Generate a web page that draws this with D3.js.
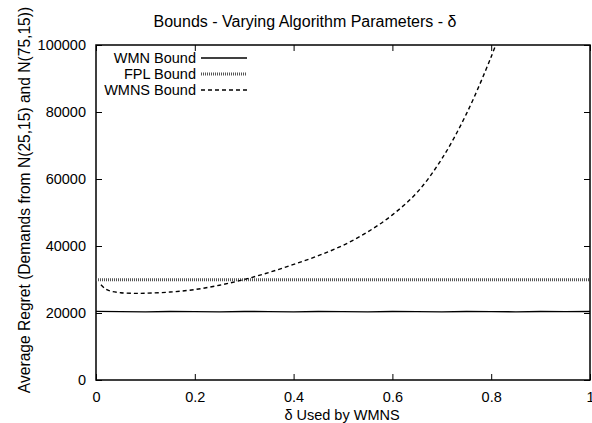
<!DOCTYPE html>
<html>
<head>
<meta charset="utf-8">
<script src="https://cdn.jsdelivr.net/npm/d3@7/dist/d3.min.js"></script>
<style>
  html, body { margin: 0; padding: 0; background: #fff; }
  svg { display: block; }
  text { font-family: "Liberation Sans", Arial, sans-serif; fill: #000; }
</style>
</head>
<body>
<svg id="chart" width="592" height="423"></svg>
<script>
// Regret bounds as a function of the WMNS parameter delta
const deltaWMN = [0, 0.05, 0.1, 0.15, 0.2, 0.25, 0.3, 0.35, 0.4, 0.45, 0.5, 0.55, 0.6, 0.65, 0.7, 0.75, 0.8, 0.85, 0.9, 0.95, 1];
const wmnBound = [20500, 20400, 20350, 20450, 20400, 20350, 20450, 20400, 20350, 20450, 20400, 20350, 20450, 20400, 20350, 20450, 20400, 20350, 20450, 20400, 20450];

const deltaFPL = [0, 1];
const fplBound = [29900, 29900];

const deltaWMNS = [0.01, 0.02, 0.03, 0.05, 0.08, 0.1, 0.15, 0.2, 0.25, 0.3, 0.35, 0.4, 0.45, 0.5, 0.55, 0.6, 0.65, 0.7, 0.75, 0.8, 0.82];
const wmnsBound = [28400, 27100, 26500, 26050, 25850, 25900, 26250, 27000, 28300, 30000, 32100, 34500, 37100, 40200, 44200, 49300, 56000, 66000, 79500, 96500, 104500];

const xTicks = [0, 0.2, 0.4, 0.6, 0.8, 1];
const xTickLabels = ["0", "0.2", "0.4", "0.6", "0.8", "1"];
const yTicks = [0, 20000, 40000, 60000, 80000, 100000];
const yTickLabels = ["0", "20000", "40000", "60000", "80000", "100000"];

const seriesNames = ["WMN Bound", "FPL Bound", "WMNS Bound"];

const svg = d3.select("#chart");
const pLeft = 96, pRight = 590, pTop = 45, pBottom = 380;

const x = d3.scaleLinear().domain([0, 1]).range([pLeft, pRight]);
const y = d3.scaleLinear().domain([0, 100000]).range([pBottom, pTop]);

svg.append("defs").append("clipPath").attr("id", "plot-clip")
  .append("rect").attr("x", pLeft).attr("y", pTop)
  .attr("width", pRight - pLeft).attr("height", pBottom - pTop);

// Title
svg.append("text").attr("x", 305).attr("y", 27)
  .attr("text-anchor", "middle").style("font-size", "16px")
  .text("Bounds - Varying Algorithm Parameters - δ");

// Axes with inward ticks, mirrored on the opposite sides
const tickLen = 6;
const fmtX = (d, i) => xTickLabels[i];
const fmtY = (d, i) => yTickLabels[i];

const axB = svg.append("g").attr("transform", `translate(0,${pBottom})`)
  .call(d3.axisBottom(x).tickValues(xTicks).tickFormat(fmtX).tickSizeInner(-tickLen).tickSizeOuter(0).tickPadding(12));
const axT = svg.append("g").attr("transform", `translate(0,${pTop})`)
  .call(d3.axisTop(x).tickValues(xTicks).tickFormat("").tickSizeInner(-tickLen).tickSizeOuter(0));
const axL = svg.append("g").attr("transform", `translate(${pLeft},0)`)
  .call(d3.axisLeft(y).tickValues(yTicks).tickFormat(fmtY).tickSizeInner(-tickLen).tickSizeOuter(0).tickPadding(10));
const axR = svg.append("g").attr("transform", `translate(${pRight},0)`)
  .call(d3.axisRight(y).tickValues(yTicks).tickFormat("").tickSizeInner(-tickLen).tickSizeOuter(0));

[axB, axT, axL, axR].forEach(g => {
  g.select(".domain").remove();
  g.selectAll(".tick line").attr("stroke", "#000").attr("stroke-width", 1);
  g.selectAll(".tick text").style("font-size", "14.5px").attr("fill", "#000")
    .style("font-family", "'Liberation Sans', Arial, sans-serif");
});

// Frame
svg.append("rect").attr("x", pLeft).attr("y", pTop)
  .attr("width", pRight - pLeft).attr("height", pBottom - pTop)
  .attr("fill", "none").attr("stroke", "#000").attr("stroke-width", 1.5);

// Axis titles
svg.append("text").attr("x", 342).attr("y", 420)
  .attr("text-anchor", "middle").style("font-size", "14.5px")
  .text("δ Used by WMNS");
svg.append("text")
  .attr("transform", "translate(30,200) rotate(-90)")
  .attr("text-anchor", "middle").style("font-size", "15.6px")
  .text("Average Regret (Demands from N(25,15) and N(75,15))");

// Series
const line = d3.line().x(d => x(d[0])).y(d => y(d[1]));
const plot = svg.append("g").attr("clip-path", "url(#plot-clip)");

const styles = [
  { stroke: "#000", width: 1.4, dash: null },
  { stroke: "#555", width: 3, dash: "1,1" },
  { stroke: "#000", width: 1.4, dash: "4,3" }
];
const seriesData = [
  d3.zip(deltaWMN, wmnBound),
  d3.zip(deltaFPL, fplBound),
  d3.zip(deltaWMNS, wmnsBound)
];

seriesData.forEach((data, i) => {
  plot.append("path").datum(data)
    .attr("d", i === 2 ? line.curve(d3.curveCatmullRom)(data) : line.curve(d3.curveLinear)(data))
    .attr("fill", "none").attr("stroke", styles[i].stroke)
    .attr("stroke-width", styles[i].width)
    .attr("stroke-dasharray", styles[i].dash);
});

// Legend
const legend = svg.append("g");
seriesNames.forEach((name, i) => {
  const ly = 58 + i * 16;
  legend.append("text").attr("x", 196).attr("y", ly + 5)
    .attr("text-anchor", "end").style("font-size", "14.5px").text(name);
  legend.append("line").attr("x1", 201).attr("x2", 247)
    .attr("y1", ly).attr("y2", ly)
    .attr("stroke", styles[i].stroke).attr("stroke-width", styles[i].width)
    .attr("stroke-dasharray", styles[i].dash);
});
</script>
</body>
</html>
